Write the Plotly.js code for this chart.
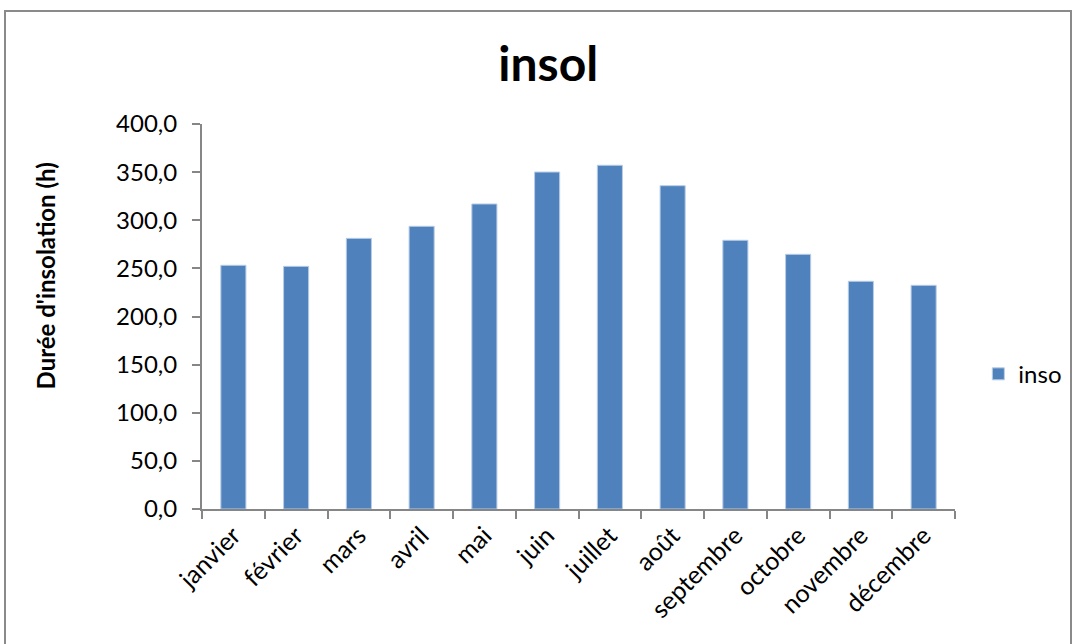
<!DOCTYPE html>
<html>
<head>
<meta charset="utf-8">
<script src="https://cdn.plot.ly/plotly-3.0.1.min.js"></script>
<style>
  html, body { margin: 0; padding: 0; background: #fff; }
  #chart { width: 1075px; height: 644px; position: relative; }
  #frame { position: absolute; left: 4px; top: 10px; width: 1068px; height: 660px;
           border: 2px solid #8a8a8a; pointer-events: none; box-sizing: border-box; }
</style>
</head>
<body>
<div id="chart"></div>
<div id="frame"></div>
<script>
const months = ["janvier", "février", "mars", "avril", "mai", "juin", "juillet", "août", "septembre", "octobre", "novembre", "décembre"];
const inso = [253.2, 252.1, 281.2, 293.7, 316.9, 350.1, 357.1, 335.9, 279.2, 264.6, 236.6, 232.4];
const yTicks = [0, 50, 100, 150, 200, 250, 300, 350, 400];
const yTickText = ["0,0", "50,0", "100,0", "150,0", "200,0", "250,0", "300,0", "350,0", "400,0"];
const yTitle = "Durée d'insolation (h)";

const FONT = "Lato, 'Open Sans', 'DejaVu Sans', sans-serif";

const trace = {
  type: "bar",
  x: months,
  y: inso,
  name: "inso",
  marker: { color: "#4F81BD", line: { color: "#b9cde5", width: 1 } },
  hoverinfo: "x+y"
};

const layout = {
  width: 1075,
  height: 644,
  paper_bgcolor: "#ffffff",
  plot_bgcolor: "#ffffff",
  margin: { l: 202, r: 120, t: 124, b: 135, pad: 0, autoexpand: false },
  font: { family: FONT, color: "#000000", size: 24 },
  title: {
    text: "<b>insol</b>",
    font: { family: FONT, size: 48, color: "#000" },
    x: 0.51, xanchor: "center", xref: "container",
    y: 0.9, yanchor: "middle", yref: "container"
  },
  bargap: 0.6,
  showlegend: true,
  legend: {
    x: 1.031, xanchor: "left", y: 0.35, yanchor: "middle",
    font: { family: FONT, size: 24, color: "#000" },
    itemwidth: 30, bgcolor: "rgba(0,0,0,0)"
  },
  annotations: [{
    text: "<b>" + yTitle + "</b>",
    xref: "paper", yref: "paper",
    x: -0.208, xanchor: "center",
    y: 0.605, yanchor: "middle",
    textangle: -90, showarrow: false,
    font: { family: FONT, size: 24, color: "#000" }
  }],
  xaxis: {
    type: "category",
    showgrid: false,
    showline: true, linecolor: "#868686", linewidth: 2,
    ticks: "outside", tickson: "boundaries", ticklen: 8, tickcolor: "#868686", tickwidth: 2,
    tickangle: -45,
    tickfont: { family: FONT, size: 25, color: "#000" },
    zeroline: false
  },
  yaxis: {
    range: [0, 400],
    tickvals: yTicks,
    ticktext: yTickText,
    showgrid: false,
    showline: true, linecolor: "#868686", linewidth: 2,
    ticks: "outside", ticklen: 8, tickcolor: "#868686", tickwidth: 2,
    ticklabelstandoff: 10,
    tickfont: { family: FONT, size: 24, color: "#000" },
    zeroline: false
  }
};

Plotly.newPlot("chart", [trace], layout, { displayModeBar: false, staticPlot: true });
</script>
</body>
</html>
